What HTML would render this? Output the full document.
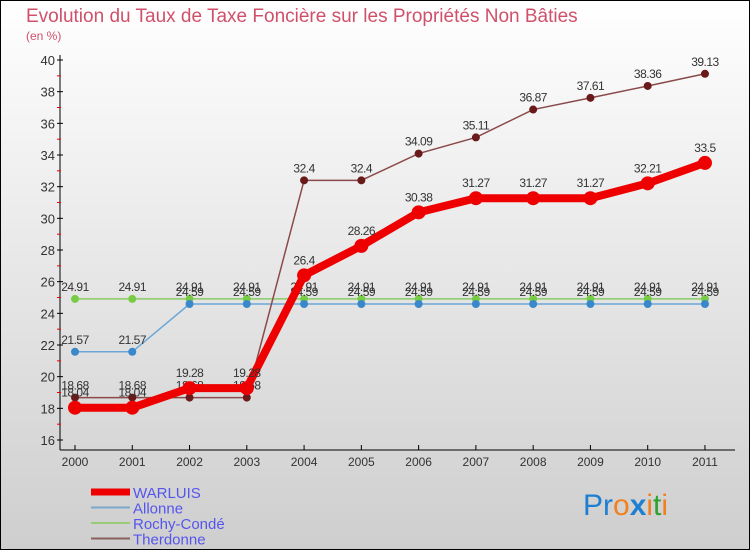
<!DOCTYPE html>
<html><head><meta charset="utf-8"><style>
body{margin:0}
#c{width:750px;height:550px;position:relative;overflow:hidden}
svg text{font-family:"Liberation Sans",sans-serif}
</style></head><body>
<div id="c">
<svg id="s" width="750" height="550" xmlns="http://www.w3.org/2000/svg">
<defs><linearGradient id="bg" x1="0" y1="0" x2="0" y2="1"><stop offset="0" stop-color="#ffffff"/><stop offset="1" stop-color="#cecece"/></linearGradient></defs>
<rect x="0.5" y="0.5" width="749" height="549" fill="url(#bg)" stroke="#000"/>
<text x="26" y="22" font-size="19" fill="#d0506a">Evolution du Taux de Taxe Foncière sur les Propriétés Non Bâties</text>
<text x="26" y="40" font-size="12" fill="#d0506a">(en %)</text>
<g id="axes"></g><g id="series"></g><g id="legend"></g>
<text x="583" y="515" font-size="30"><tspan fill="#1e7fd0">Pr</tspan><tspan fill="#f08020">o</tspan><tspan fill="#1e7fd0" font-weight="bold">x</tspan><tspan fill="#f08020">i</tspan><tspan fill="#30a030">t</tspan><tspan fill="#f08020">i</tspan></text>
</svg></div>
<script>
const years=[2000,2001,2002,2003,2004,2005,2006,2007,2008,2009,2010,2011];
const warluis=[18.04,18.04,19.28,19.28,26.4,28.26,30.38,31.27,31.27,31.27,32.21,33.5];
const allonne=[21.57,21.57,24.59,24.59,24.59,24.59,24.59,24.59,24.59,24.59,24.59,24.59];
const rochy=[24.91,24.91,24.91,24.91,24.91,24.91,24.91,24.91,24.91,24.91,24.91,24.91];
const therdonne=[18.68,18.68,18.68,18.68,32.4,32.4,34.09,35.11,36.87,37.61,38.36,39.13];
const yTicks=[16,18,20,22,24,26,28,30,32,34,36,38,40];
const NS="http://www.w3.org/2000/svg";
const X=i=>75+i*57.27;
const Y=v=>440-(v-16)*(380/24);
function mk(t,a,p){const e=document.createElementNS(NS,t);for(const k in a)e.setAttribute(k,a[k]);p.appendChild(e);return e;}
const ax=document.getElementById('axes');
let l=mk('line',{x1:60,y1:55,x2:60,y2:450,stroke:'#000'},ax);


l=mk('line',{x1:60,y1:450,x2:735,y2:450,stroke:'#000'},ax);


yTicks.forEach(v=>{
 mk('line',{x1:57,y1:Y(v),x2:63,y2:Y(v),stroke:'#000'},ax);
 if(v<40)mk('line',{x1:57,y1:Y(v+1),x2:61,y2:Y(v+1),stroke:'#e00'},ax);
 const t=mk('text',{x:55,y:Y(v)+5,'font-size':13,'text-anchor':'end',fill:'#333'},ax);t.textContent=v;
 
 
});
years.forEach((y,i)=>{
 mk('line',{x1:X(i),y1:445,x2:X(i),y2:450,stroke:'#000'},ax);
 const t=mk('text',{x:X(i),y:466,'font-size':12,'text-anchor':'middle',fill:'#333'},ax);t.textContent=y;
 
 
});
const sg=document.getElementById('series');
function draw(data,color,w,r,name,dot){
 const g=mk('g',{},sg);
 
 
 mk('polyline',{points:data.map((v,i)=>X(i)+','+Y(v)).join(' '),fill:'none',stroke:color,'stroke-width':w},g);
 data.forEach((v,i)=>{
  const c=mk('circle',{cx:X(i),cy:Y(v),r:r,fill:dot},g);
  
  
  const t=mk('text',{x:X(i),y:Y(v)-8-(r>4?3:0),'font-size':12,'text-anchor':'middle',fill:'#333','letter-spacing':'-0.5'},g);t.textContent=v;
  
  
 });
}
draw(rochy,'#88cc66',1.5,4,'rochy-conde','#77cc44');
draw(allonne,'#6aa7d8',1.5,4,'allonne','#3a88cc');
draw(therdonne,'#8b4a4a',1.5,4,'therdonne','#6a1a1a');
draw(warluis,'#ee0000',8,7,'warluis','#ee0000');
const lg=document.getElementById('legend');
[['WARLUIS','#ee0000',7],['Allonne','#7aa8cc',2],['Rochy-Condé','#9acc77',2],['Therdonne','#8b6060',2]].forEach((d,i)=>{
 const y=492+i*15.5;
 const g=mk('g',{},lg);
 
 
 mk('line',{x1:91,y1:y,x2:130,y2:y,stroke:d[1],'stroke-width':d[2]},g);
 const t=mk('text',{x:133,y:y+6,'font-size':15,fill:'#5555ee'},g);t.textContent=d[0];
});
</script>
</body></html>
